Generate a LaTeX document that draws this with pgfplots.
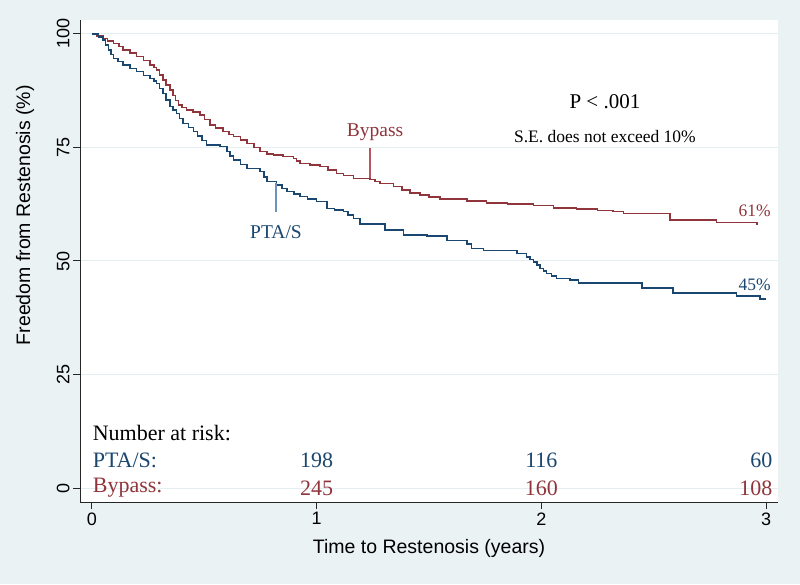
\documentclass[border=0pt]{standalone}
\usepackage{fontspec}
\setmainfont{Liberation Serif}
\newfontfamily\sansf{Liberation Sans}
\usepackage{pgfplots}
\pgfplotsset{compat=1.18}
\definecolor{bgc}{RGB}{234,242,243}
\definecolor{gridc}{RGB}{228,238,240}
\definecolor{navy}{RGB}{26,71,111}
\definecolor{maroon}{RGB}{144,53,59}
\definecolor{navylt}{RGB}{110,145,190}
\definecolor{maroonlt}{RGB}{185,85,95}
\begin{document}
\begin{tikzpicture}
\fill[bgc] (0pt,0pt) rectangle (800pt,584pt);
\begin{axis}[
  at={(80pt,82pt)}, anchor=south west,
  scale only axis, width=698pt, height=482pt,
  xmin=-0.0534, xmax=3.0534, ymin=-3.08, ymax=103.08,
  axis background/.style={fill=white},
  axis x line*=bottom, axis y line*=left,
  axis line style={line width=1pt, black!85},
  xtick={0,1,2,3}, ytick={0,25,50,75,100},
  tick align=outside, major tick length=7pt,
  tick style={line width=1pt, black!85},
  ymajorgrids, grid style={gridc, line width=1pt},
  /pgf/number format/assume math mode=true,
  xticklabel style={font=\sansf\fontsize{18}{18}\selectfont},
  yticklabel style={font=\sansf\fontsize{18}{18}\selectfont, rotate=90, anchor=south},
  xlabel={Time to Restenosis (years)},
  ylabel={Freedom from Restenosis (\%)},
  xlabel style={font=\sansf\fontsize{19.5}{19.5}\selectfont, at={(axis description cs:0.5,0)}, anchor=center, yshift=-46pt},
  ylabel style={font=\sansf\fontsize{19.5}{19.5}\selectfont, at={(axis description cs:-0.0788,0.595)}, anchor=center},
  clip=false,
]
\addplot[const plot, maroon, line width=1.5pt] coordinates {
(0,100) (0.02,99.6) (0.05,99.0) (0.07,98.5) (0.095,97.9) (0.12,97.2) (0.139,96.5)
(0.17,95.8) (0.199,95.0) (0.23,94.2) (0.258,93.2) (0.275,92.6) (0.288,92.1)
(0.30,91.0) (0.317,89.9) (0.33,88.8) (0.347,87.7) (0.36,86.5) (0.372,85.4)
(0.384,84.4) (0.40,83.8) (0.421,83.3) (0.45,82.8) (0.481,82.2) (0.50,81.2)
(0.525,80.0) (0.55,79.3) (0.584,78.5) (0.61,77.9) (0.629,77.4) (0.66,76.7)
(0.689,75.9) (0.72,75.0) (0.748,74.1) (0.78,73.6) (0.807,73.3) (0.85,73.0)
(0.896,72.6) (0.91,72.0) (0.926,71.5) (0.97,71.1) (1.015,70.8) (1.05,70.0)
(1.089,69.3) (1.12,68.8) (1.163,68.2) (1.237,68.0) (1.26,67.5) (1.282,67.1)
(1.341,66.4) (1.38,65.6) (1.415,65.0) (1.46,64.5) (1.50,64.1) (1.549,63.7)
(1.668,63.2) (1.757,62.8) (1.85,62.5) (1.964,62.2) (2.053,61.7) (2.157,61.4)
(2.25,61.1) (2.32,60.9) (2.365,60.5) (2.573,59.0) (2.78,58.5) (2.959,58.0)
};
\addplot[const plot, navy, line width=1.5pt] coordinates {
(0,100) (0.03,99.3) (0.05,98.7) (0.06,97.6) (0.073,96.5) (0.085,95.5) (0.095,94.6)
(0.115,93.9) (0.139,93.2) (0.17,92.4) (0.199,91.7) (0.23,90.9) (0.258,90.2)
(0.275,89.6) (0.288,89.1) (0.30,88.0) (0.317,86.9) (0.33,85.5) (0.347,84.0)
(0.36,83.3) (0.377,82.5) (0.39,81.4) (0.406,80.3) (0.43,79.4) (0.451,78.5)
(0.47,77.5) (0.49,76.5) (0.51,75.6) (0.57,75.2) (0.60,74.1) (0.615,73.1)
(0.629,72.2) (0.66,71.3) (0.689,70.4) (0.748,69.7) (0.765,68.5) (0.778,67.5)
(0.822,66.7) (0.845,66.0) (0.867,65.3) (0.90,64.8) (0.926,64.2) (0.96,63.6)
(1.0,63.1) (1.045,61.6) (1.08,61.2) (1.119,60.9) (1.14,60.1) (1.163,59.4)
(1.193,58.1) (1.304,56.8) (1.386,55.7) (1.49,55.5) (1.579,54.5) (1.668,53.7)
(1.69,52.8) (1.742,52.3) (1.891,51.7) (1.935,50.9) (1.95,50.3) (1.964,49.8)
(1.98,49.1) (1.994,48.4) (2.01,47.8) (2.024,47.3) (2.045,46.7) (2.068,46.2)
(2.128,45.8) (2.165,45.1) (2.447,44.1) (2.587,42.9) (2.869,42.3) (2.973,41.6)
(3.0,41.6)
};
% pointer lines
\addplot[maroonlt, line width=2pt] coordinates {(1.237,74.9) (1.237,68.2)};
\addplot[navylt, line width=2pt] coordinates {(0.819,67.2) (0.819,60.8)};
% annotations
\node[maroon, font=\fontsize{19.5}{19.5}\selectfont] at (axis cs:1.26,78.3) {Bypass};
\node[navy, font=\fontsize{19.5}{19.5}\selectfont] at (axis cs:0.819,56.4) {PTA/S};
\node[font=\fontsize{21}{21}\selectfont] at (axis cs:2.283,85.2) {P < .001};
\node[font=\fontsize{17.5}{17.5}\selectfont] at (axis cs:2.283,77.5) {S.E. does not exceed 10\%};
\node[maroon, font=\fontsize{17.5}{17.5}\selectfont] at (axis cs:2.95,61.0) {61\%};
\node[navy, font=\fontsize{17.5}{17.5}\selectfont] at (axis cs:2.95,44.7) {45\%};
% number at risk
\node[anchor=west, font=\fontsize{22}{22}\selectfont] at (axis cs:-0.012,12.1) {Number at risk:};
\node[anchor=west, navy, font=\fontsize{22}{22}\selectfont] at (axis cs:-0.012,6.1) {PTA/S:};
\node[anchor=west, maroon, font=\fontsize{22}{22}\selectfont] at (axis cs:-0.012,0) {Bypass:};
\node[navy, font=\fontsize{22}{22}\selectfont] at (axis cs:1,6.1) {198};
\node[navy, font=\fontsize{22}{22}\selectfont] at (axis cs:2,6.1) {116};
\node[navy, anchor=east, font=\fontsize{22}{22}\selectfont] at (axis cs:3.044,6.1) {60};
\node[maroon, font=\fontsize{22}{22}\selectfont] at (axis cs:1,0) {245};
\node[maroon, font=\fontsize{22}{22}\selectfont] at (axis cs:2,0) {160};
\node[maroon, anchor=east, font=\fontsize{22}{22}\selectfont] at (axis cs:3.044,0) {108};
\end{axis}
\pgfresetboundingbox
\path (0pt,0pt) rectangle (800pt,584pt);
\end{tikzpicture}
\end{document}
